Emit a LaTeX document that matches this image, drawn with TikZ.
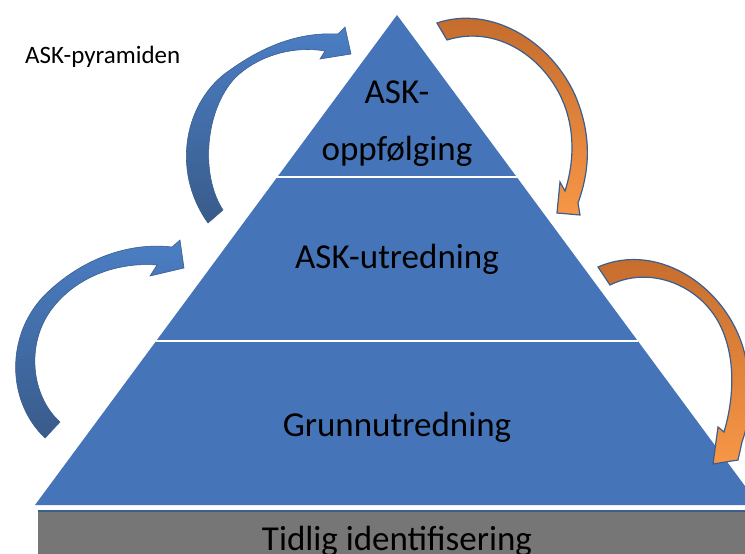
\documentclass[tikz,border=0pt]{standalone}
\usepackage{fontspec}
\setmainfont{Carlito}
\usepackage{tikz}
\definecolor{pyr}{HTML}{4574B8}
\definecolor{arrA}{HTML}{4B7EC4}
\definecolor{arrB}{HTML}{395B8A}
\definecolor{orA}{HTML}{F79646}
\definecolor{orB}{HTML}{C26A2C}
\definecolor{edge}{HTML}{3B5E8E}
\definecolor{bar}{HTML}{767676}
\newcommand{\lvlfont}{\fontsize{35}{40}\selectfont}

\begin{document}
\begin{tikzpicture}[x=1pt,y=-1pt,
  lvl/.style={anchor=base,inner sep=0pt,font=\lvlfont},
  bluearrow/.style={top color=arrA,bottom color=arrB,draw=edge,line width=0.6pt},
  orangearrow/.style={top color=orB,bottom color=orA,draw=edge,line width=1.2pt}]
\useasboundingbox (0,0) rectangle (745,554);
\clip (0,0) rectangle (745,554);

% pyramid
\fill[pyr] (397,15) -- (759,505) -- (35,505) -- cycle;
\draw[white,line width=2pt] (277,177) -- (517,177);
\draw[white,line width=2pt] (156,341) -- (638,341);

% base bar
\fill[bar] (38,511) rectangle (760,560);
\draw[edge,line width=1.5pt] (38,511) -- (760,511);

% labels
\node[anchor=base west,inner sep=0pt,font=\fontsize{25}{30}\selectfont] (title) at (25,63) {ASK-pyramiden};
\node[lvl] (top1) at (397,103) {ASK-};
\node[lvl] (top2) at (397,160) {oppfølging};
\node[lvl] (mid) at (397,268) {ASK-utredning};
\node[lvl] (low) at (397,436) {Grunnutredning};
\node[lvl] (base) at (397,550) {Tidlig identifisering};

% curved arrows, left side
\path[bluearrow] (208,223) .. controls (170,170) and (185,100) .. (230,70)
  .. controls (265,45) and (300,32) .. (338,34)
  -- (345,27) -- (351,54) -- (320,59) -- (325,51)
  .. controls (290,45) and (255,58) .. (235,78)
  .. controls (205,110) and (200,175) .. (223,210) -- cycle;
\path[bluearrow] (45,438) .. controls (5,400) and (5,330) .. (50,290)
  .. controls (85,258) and (130,242) .. (172,247)
  -- (180,240) -- (184,268) -- (150,276) -- (157,265)
  .. controls (120,262) and (80,275) .. (55,305)
  .. controls (25,340) and (30,395) .. (60,422) -- cycle;

% curved arrows, right side
\path[orangearrow] (437,23) .. controls (490,5) and (550,40) .. (575,95)
  .. controls (592,135) and (590,170) .. (578,203)
  -- (580,215) -- (557,213) -- (560,182) -- (565,191)
  .. controls (575,160) and (575,125) .. (560,95)
  .. controls (540,55) and (495,25) .. (447,40) -- cycle;
\path[orangearrow] (598,267) .. controls (660,240) and (730,290) .. (745,355)
  .. controls (752,390) and (750,420) .. (742,442)
  -- (738,460) -- (713,464) -- (718,427) -- (724,432)
  .. controls (735,395) and (735,355) .. (720,325)
  .. controls (700,285) and (650,265) .. (610,285) -- cycle;
\end{tikzpicture}
\end{document}
